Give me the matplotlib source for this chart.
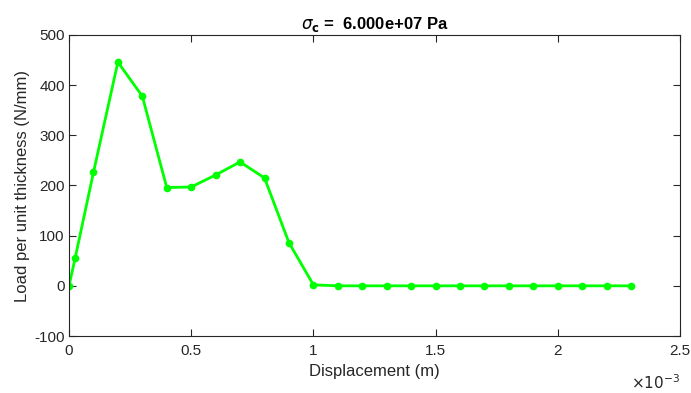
import matplotlib
matplotlib.use('Agg')
import matplotlib.pyplot as plt
import numpy as np

plt.rcParams['font.family'] = ['Liberation Sans', 'DejaVu Sans']

# displacement (m) and load per unit thickness (N/mm)
disp = [0, 0.025e-3, 0.1e-3, 0.2e-3, 0.3e-3, 0.4e-3, 0.5e-3, 0.6e-3, 0.7e-3,
        0.8e-3, 0.9e-3, 1.0e-3, 1.1e-3, 1.2e-3, 1.3e-3, 1.4e-3, 1.5e-3,
        1.6e-3, 1.7e-3, 1.8e-3, 1.9e-3, 2.0e-3, 2.1e-3, 2.2e-3, 2.3e-3]
load = [0, 55, 226, 446, 378, 196, 197, 221, 247,
        215, 86, 2, 0, 0, 0, 0, 0,
        0, 0, 0, 0, 0, 0, 0, 0]
xticks = [0, 0.5e-3, 1.0e-3, 1.5e-3, 2.0e-3, 2.5e-3]
xticklabels = ['0', '0.5', '1', '1.5', '2', '2.5']
yticks = [-100, 0, 100, 200, 300, 400, 500]

fig = plt.figure(figsize=(6.91, 3.93), dpi=100)
ax = fig.add_axes([69/691, 1-336/393, (680-69)/691, (336-35)/393])

ax.plot(disp, load, '-o', color='#00ff00', lw=2, ms=4.5)

ax.set_xlim(0, 2.5e-3)
ax.set_ylim(-100, 500)
ax.set_xticks(xticks)
ax.set_xticklabels(xticklabels)
ax.set_yticks(yticks)
ax.set_yticklabels([str(v) for v in yticks])

c = '#262626'
for s in ax.spines.values():
    s.set_color(c)
    s.set_linewidth(0.8)
ax.tick_params(direction='in', top=True, right=True, labelsize=11, colors=c,
               length=5, width=0.8, pad=3)
ax.tick_params(axis='x', pad=6)

ax.set_xlabel('Displacement (m)', fontsize=12, color=c, labelpad=4)
ax.set_ylabel('Load per unit thickness (N/mm)', fontsize=12, color=c, labelpad=3)
ax.set_title(r'$\sigma_\mathbf{c}$ =  6.000e+07 Pa', fontsize=12, fontweight='bold', pad=4)
ax.text(1.0, -0.125, r'$\times10^{-3}$', transform=ax.transAxes, ha='right', va='top',
        fontsize=11, color=c)

fig.savefig('out.png', dpi=100)
